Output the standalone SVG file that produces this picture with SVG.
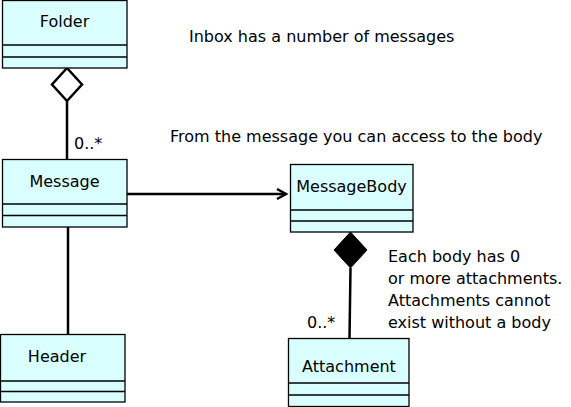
<svg xmlns="http://www.w3.org/2000/svg" width="571" height="407" viewBox="0 0 571 407">
<style>
.box{fill:#d9ffff;stroke:#000;stroke-width:1.3}
.ln{stroke:#000;stroke-width:1.3}
.c{stroke:#000;stroke-width:2.5;fill:none}
text{font-family:"DejaVu Sans",Verdana,sans-serif;font-size:16px;fill:#000}
.m{text-anchor:middle}
</style>
<rect width="571" height="407" fill="#fff"/>
<g id="connectors">
<line class="c" x1="67" y1="101" x2="67" y2="159"/>
<polygon points="67,68 82,84.5 67,101 52,84.5" fill="#fff" stroke="#000" stroke-width="2.5"/>
<line class="c" x1="68" y1="227" x2="68" y2="334"/>
<line class="c" x1="127" y1="194" x2="286" y2="194"/>
<polyline class="c" points="277,189 286,194 277,199"/>
<line class="c" x1="350.5" y1="268" x2="349.5" y2="338"/>
<polygon points="350.5,232 367,250 350.5,268 334,250" fill="#000" stroke="#000" stroke-width="1"/>
<text x="74" y="149">0..*</text>
<text x="307" y="328">0..*</text>
</g>
<g id="Folder">
<rect class="box" x="2.5" y="0.5" width="124.5" height="67.5"/>
<line class="ln" x1="2.5" y1="45" x2="127" y2="45"/>
<line class="ln" x1="2.5" y1="57" x2="127" y2="57"/>
<text class="m" x="64.5" y="27">Folder</text>
</g>
<g id="Message">
<rect class="box" x="2.5" y="159.5" width="124.5" height="67.5"/>
<line class="ln" x1="2.5" y1="204" x2="127" y2="204"/>
<line class="ln" x1="2.5" y1="215.5" x2="127" y2="215.5"/>
<text class="m" x="64.5" y="187">Message</text>
</g>
<g id="Header">
<rect class="box" x="0.5" y="334.5" width="124.5" height="67.5"/>
<line class="ln" x1="0.5" y1="381" x2="125" y2="381"/>
<line class="ln" x1="0.5" y1="391.5" x2="125" y2="391.5"/>
<text class="m" x="57" y="362">Header</text>
</g>
<g id="MessageBody">
<rect class="box" x="290.5" y="164.5" width="122.5" height="67.5"/>
<line class="ln" x1="290.5" y1="210" x2="413" y2="210"/>
<line class="ln" x1="290.5" y1="221" x2="413" y2="221"/>
<text class="m" x="351.5" y="192">MessageBody</text>
</g>
<g id="Attachment">
<rect class="box" x="288.5" y="338.5" width="120.5" height="68"/>
<line class="ln" x1="288.5" y1="383" x2="409" y2="383"/>
<line class="ln" x1="288.5" y1="395" x2="409" y2="395"/>
<text class="m" x="349" y="372">Attachment</text>
</g>
<g id="notes">
<text x="189" y="42">Inbox has a number of messages</text>
<text x="170" y="142">From the message you can access to the body</text>
<text x="388" y="262">Each body has 0</text>
<text x="388" y="284">or more attachments.</text>
<text x="388" y="306">Attachments cannot</text>
<text x="388" y="328">exist without a body</text>
</g>
</svg>
